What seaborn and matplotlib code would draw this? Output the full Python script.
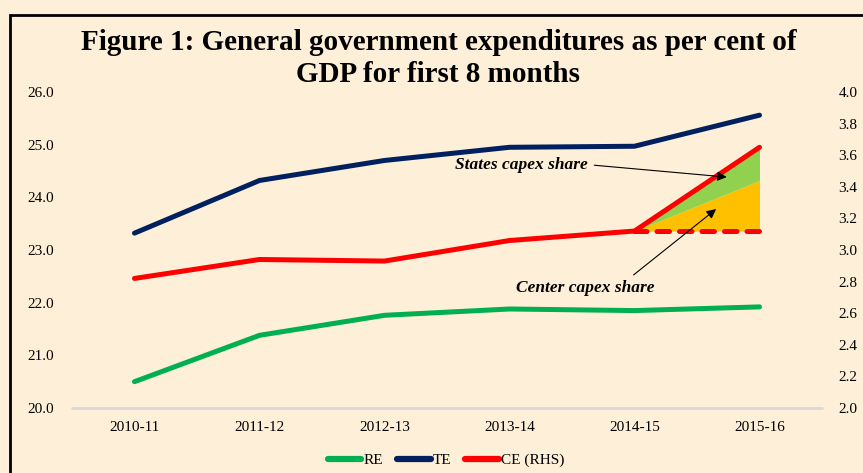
import numpy as np
import pandas as pd
import matplotlib
matplotlib.use('Agg')
import matplotlib.pyplot as plt
import seaborn as sns
from matplotlib.lines import Line2D
from matplotlib.patches import Rectangle

## DATA
years = ['2010-11', '2011-12', '2012-13', '2013-14', '2014-15', '2015-16']
re_vals = [20.50, 21.38, 21.76, 21.88, 21.85, 21.92]
te_vals = [23.32, 24.32, 24.70, 24.95, 24.97, 25.56]
ce_vals = [2.82, 2.94, 2.93, 3.06, 3.12, 3.65]
# split of the last year's capex rise (RHS)
base_ce = [3.12, 3.12]
center_top = [3.12, 3.44]
states_top = [3.12, 3.65]

df = pd.DataFrame({'year': years, 'RE': re_vals, 'TE': te_vals, 'CE': ce_vals})

## STYLE
bg = '#FEF0D8'
c_re, c_te, c_ce = '#00B050', '#002060', '#FF0000'
sns.set_style('white')
plt.rcParams['font.family'] = ['Liberation Serif', 'DejaVu Serif']
plt.rcParams['text.color'] = 'black'

fig = plt.figure(figsize=(8.63, 4.73), dpi=100, facecolor=bg)
ax = fig.add_axes([0.0834, 0.1374, 0.8691, 0.6681])
ax.set_facecolor(bg)
ax2 = ax.twinx()

sns.lineplot(data=df, x='year', y='RE', ax=ax, color=c_re, lw=3.6, sort=False)
sns.lineplot(data=df, x='year', y='TE', ax=ax, color=c_te, lw=3.6, sort=False)

# capex split fills for the last year
i0, i1 = years.index('2014-15'), years.index('2015-16')
xs = [i0, i1]
ax2.fill_between(xs, base_ce, center_top, color='#FFC000', lw=0)
ax2.fill_between(xs, center_top, states_top, color='#92D050', lw=0)
ax2.plot(xs, base_ce, color=c_ce, lw=3.6, ls=(0, (2.5, 2)))
sns.lineplot(data=df, x='year', y='CE', ax=ax2, color=c_ce, lw=3.6, sort=False)

for line in ax.lines + ax2.lines:
    line.set_solid_capstyle('round')
    line.set_dash_capstyle('round')

ax.set_xlim(-0.5, len(years) - 0.5)
ax.set_ylim(20, 26)
ax2.set_ylim(2, 4)
ax.set_yticks(np.arange(20, 26.1, 1))
ax.set_yticklabels([f'{v:.1f}' for v in np.arange(20, 26.1, 1)])
ax2.set_yticks(np.arange(2, 4.01, 0.2))
ax2.set_yticklabels([f'{v:.1f}' for v in np.arange(2, 4.01, 0.2)])
ax.set_xlabel('')
ax.set_ylabel('')
ax2.set_ylabel('')

for a in (ax, ax2):
    for s in a.spines.values():
        s.set_visible(False)
    a.tick_params(length=0, labelsize=11, colors='black')
ax.tick_params(axis='y', pad=13)
ax2.tick_params(axis='y', pad=12)
ax.tick_params(axis='x', pad=9)
ax.axhline(20, color='#D9D9D9', lw=2, zorder=0, clip_on=False)

# annotations
ax2.annotate('States capex share', xy=(4.76, 3.46), xytext=(3.63, 3.54),
             fontsize=12.5, fontweight='bold', fontstyle='italic', ha='right', va='center',
             arrowprops=dict(arrowstyle='-|>', color='black', lw=0.8, mutation_scale=14,
                             relpos=(1, 0.5)))
ax2.annotate('Center capex share', xy=(4.67, 3.27), xytext=(3.61, 2.76),
             fontsize=12.5, fontweight='bold', fontstyle='italic', ha='center', va='center',
             arrowprops=dict(arrowstyle='-|>', color='black', lw=0.8, mutation_scale=14,
                             relpos=(0.8, 1.0), shrinkA=2))

fig.suptitle('Figure 1: General government expenditures as per cent of\nGDP for first 8 months',
             fontsize=21, fontweight='bold', x=0.508, y=0.876, va='center', linespacing=1.27,
             color='black')

handles = [Line2D([], [], color=c, lw=4.5, solid_capstyle='round') for c in (c_re, c_te, c_ce)]
fig.legend(handles, ['RE', 'TE', 'CE (RHS)'], loc='center', bbox_to_anchor=(0.517, 0.027),
           ncol=3, frameon=False, fontsize=11, handlelength=2.2, handletextpad=0.15,
           columnspacing=0.9)

# outer frame
fig.add_artist(Rectangle((10 / 863, -0.1), 1.2, 1.1 - 15 / 473, transform=fig.transFigure,
                         fill=False, edgecolor='black', lw=2))

fig.savefig('out.png', dpi=100, facecolor=bg)
